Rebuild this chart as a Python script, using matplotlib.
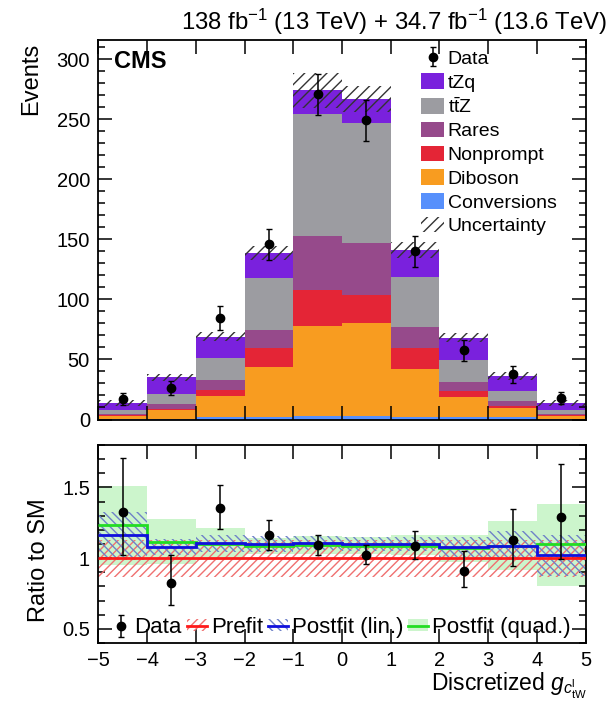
import numpy as np
import matplotlib
matplotlib.use("Agg")
import matplotlib.pyplot as plt
from matplotlib.patches import Patch
from matplotlib.lines import Line2D
from matplotlib.ticker import MultipleLocator, FixedLocator, FuncFormatter

plt.rcParams['font.family'] = ['Liberation Sans', 'DejaVu Sans']
plt.rcParams['mathtext.fontset'] = 'custom'
plt.rcParams['mathtext.rm'] = 'Liberation Sans'
plt.rcParams['mathtext.it'] = 'Liberation Sans:italic'
plt.rcParams['hatch.linewidth'] = 1.0

# binning of the discretized observable
edges = np.arange(-5, 6)
centers = edges[:-1] + 0.5

# stacked predictions per bin (events)
conversions = [0.3, 0.5, 2.0, 2.0, 3.0, 3.0, 2.0, 2.0, 2.0, 0.5]
diboson = [2.6, 7.0, 17.5, 42.0, 74.9, 77.4, 40.3, 16.9, 7.3, 2.4]
nonprompt = [0.7, 1.4, 5.0, 15.6, 29.8, 23.6, 17.3, 4.8, 1.8, 0.8]
rares = [1.0, 4.2, 8.1, 15.3, 44.8, 42.7, 17.4, 7.7, 3.9, 1.2]
ttz = [3.4, 8.3, 18.9, 43.1, 102.2, 99.9, 41.3, 18.1, 8.4, 3.0]
tzq = [6.0, 13.6, 17.5, 21.0, 19.3, 20.4, 22.7, 18.7, 12.8, 5.8]
mc_unc = [2.5, 3.0, 4.0, 5.8, 14.5, 11.0, 6.5, 4.0, 3.2, 2.5]

data = [17.0, 26.5, 84.6, 145.8, 270.8, 249.0, 140.0, 57.5, 37.5, 17.5]
data_err = [5.0, 5.8, 10.0, 13.0, 17.0, 17.0, 12.8, 8.4, 7.0, 5.0]

# ratio panel
ratio_data = [1.326, 0.826, 1.352, 1.160, 1.095, 1.024, 1.088, 0.912, 1.131, 1.290]
ratio_up = [1.707, 1.019, 1.517, 1.267, 1.162, 1.093, 1.195, 1.052, 1.345, 1.667]
ratio_dn = [1.019, 0.671, 1.207, 1.060, 1.024, 0.960, 0.995, 0.793, 0.945, 0.995]

prefit_lo = [0.87] * 10
prefit_hi = [1.13] * 10

lin_val = [1.160, 1.079, 1.105, 1.100, 1.105, 1.100, 1.100, 1.079, 1.088, 1.021]
lin_lo = [0.99, 1.02, 1.045, 1.045, 1.055, 1.05, 1.05, 1.01, 0.99, 0.875]
lin_hi = [1.326, 1.138, 1.167, 1.155, 1.155, 1.15, 1.15, 1.15, 1.19, 1.167]

quad_val = [1.231, 1.117, 1.100, 1.088, 1.093, 1.088, 1.088, 1.071, 1.088, 1.100]
quad_lo = [0.95, 0.96, 0.99, 1.03, 1.03, 1.03, 1.02, 0.975, 0.915, 0.805]
quad_hi = [1.512, 1.274, 1.21, 1.143, 1.155, 1.148, 1.16, 1.167, 1.262, 1.386]

fig = plt.figure(figsize=(6.13, 7.16), dpi=100)
ax = fig.add_axes([0.1604, 0.4141, 0.795, 0.530])
rax = fig.add_axes([0.1604, 0.1020, 0.795, 0.2765])

# ---- main panel: stacked histogram
procs = [
    ("Conversions", conversions, "#5790fc"),
    ("Diboson", diboson, "#f89c20"),
    ("Nonprompt", nonprompt, "#e42536"),
    ("Rares", rares, "#964a8b"),
    (r"t$\bar{\mathrm{t}}$Z", ttz, "#9c9ca1"),
    ("tZq", tzq, "#7a21dd"),
]
bottom = np.zeros(len(centers))
for name, vals, col in procs:
    vals = np.array(vals)
    ax.bar(edges[:-1], vals, width=1, bottom=bottom, align='edge',
           color=col, linewidth=0)
    bottom += vals
total = bottom
unc = np.array(mc_unc)
ax.bar(edges[:-1], 2 * unc, width=1, bottom=total - unc, align='edge',
       fill=False, hatch='///', edgecolor='#333333', linewidth=0)
dat = ax.errorbar(centers, data, yerr=data_err, fmt='o', color='black',
                  ms=6, elinewidth=1.1, capsize=2.5, capthick=1.0)

ax.set_xlim(-5, 5)
ax.set_ylim(0, 316)

handles = [dat]
labels = ["Data"]
for name, vals, col in procs[::-1]:
    handles.append(Patch(facecolor=col, linewidth=0))
    labels.append(name)
handles.append(Patch(fill=False, hatch='///', edgecolor='#333333', linewidth=0))
labels.append("Uncertainty")
ax.legend(handles, labels, loc='upper left', bbox_to_anchor=(0.663, 0.975),
          frameon=False, fontsize=14, handlelength=1.15, handleheight=0.85,
          handletextpad=0.2, labelspacing=0.27, borderpad=0, borderaxespad=0)

ax.text(0.032, 0.975, "CMS", transform=ax.transAxes, fontsize=17,
        fontweight='bold', ha='left', va='top')

# ---- ratio panel
x0 = edges[:-1]
quad_lo_a, quad_hi_a = np.array(quad_lo), np.array(quad_hi)
rax.bar(x0, quad_hi_a - quad_lo_a, width=1, bottom=quad_lo_a, align='edge',
        color='#ccf5cc', linewidth=0, zorder=1)
pre_lo_a, pre_hi_a = np.array(prefit_lo), np.array(prefit_hi)
rax.bar(x0, pre_hi_a - pre_lo_a, width=1, bottom=pre_lo_a, align='edge',
        fill=False, hatch='////', edgecolor='#f07070', linewidth=0, zorder=2)
lin_lo_a, lin_hi_a = np.array(lin_lo), np.array(lin_hi)
rax.bar(x0, lin_hi_a - lin_lo_a, width=1, bottom=lin_lo_a, align='edge',
        fill=False, hatch='\\\\\\\\', edgecolor='#6f82c8', linewidth=0, zorder=2)

rax.stairs(quad_val, edges, color='#22dd22', linewidth=2, zorder=3, baseline=None)
rax.stairs([1.0] * 10, edges, color='#ff1a1a', linewidth=2, zorder=3, baseline=None)
rax.stairs(lin_val, edges, color='#1010dd', linewidth=2, zorder=4, baseline=None)

rd = np.array(ratio_data)
rerr = [rd - np.array(ratio_dn), np.array(ratio_up) - rd]
rdat = rax.errorbar(centers, rd, yerr=rerr, fmt='o', color='black', ms=6,
                    elinewidth=1.1, capsize=2.5, capthick=1.0, zorder=5)

rax.set_xlim(-5, 5)
rax.set_ylim(0.4, 1.8)

pre_h = (Patch(fill=False, hatch='////', edgecolor='#f07070', linewidth=0),
         Line2D([], [], color='#ff1a1a', lw=2))
lin_h = (Patch(fill=False, hatch='\\\\\\\\', edgecolor='#6f82c8', linewidth=0),
         Line2D([], [], color='#1010dd', lw=2))
quad_h = (Patch(facecolor='#ccf5cc', linewidth=0),
          Line2D([], [], color='#22dd22', lw=2))
rax.legend([rdat, pre_h, lin_h, quad_h],
           ["Data", "Prefit", "Postfit (lin.)", "Postfit (quad.)"],
           loc='lower left', bbox_to_anchor=(0.025, 0.025), ncol=4,
           frameon=False, fontsize=16, handlelength=0.9, handleheight=0.5,
           handletextpad=0.18, columnspacing=0.22, borderpad=0, borderaxespad=0)

# ---- axes styling
for a in (ax, rax):
    a.xaxis.set_major_locator(MultipleLocator(1))
    a.tick_params(which='both', direction='in', top=True, right=True,
                  labelsize=14.5, width=1.1)
    a.tick_params(which='major', length=10, pad=6)
    a.tick_params(which='minor', length=5)
    for s in a.spines.values():
        s.set_linewidth(1.3)
ax.tick_params(axis='x', labelbottom=False)
ax.yaxis.set_major_locator(MultipleLocator(50))
ax.yaxis.set_minor_locator(MultipleLocator(10))
rax.yaxis.set_major_locator(FixedLocator([0.5, 1.0, 1.5]))
rax.yaxis.set_minor_locator(MultipleLocator(0.1))
rax.yaxis.set_major_formatter(FuncFormatter(lambda v, p: f"{v:g}"))

fig.text(0.990, 0.958, r"138 fb$^{-1}$ (13 TeV) + 34.7 fb$^{-1}$ (13.6 TeV)",
         ha='right', va='baseline', fontsize=17.2)
fig.text(0.050, 0.940, "Events", rotation=90, ha='center', va='top', fontsize=17)
fig.text(0.063, 0.2175, "Ratio to SM", rotation=90, ha='center', va='center',
         fontsize=17)
fig.text(0.958, 0.035, r"Discretized $g_{c_{\mathrm{tW}}^{\mathrm{l}}}$",
         ha='right', va='baseline', fontsize=16.5)

fig.savefig("out.png", dpi=100)
